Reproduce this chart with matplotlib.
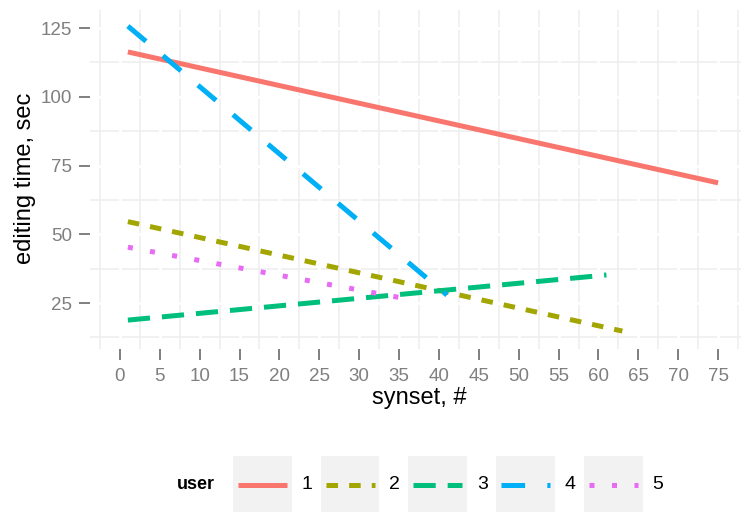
import matplotlib
matplotlib.use('Agg')
import matplotlib.pyplot as plt
from matplotlib.patches import Rectangle
from matplotlib.lines import Line2D

plt.rcParams['font.family'] = ['Liberation Sans', 'DejaVu Sans']
plt.rcParams['lines.scale_dashes'] = False

# ---- data ----
users = ['1', '2', '3', '4', '5']
x_start = [1, 1, 1, 1, 1]
x_end = [75, 63, 61, 41, 36]
y_start = [116.3, 54.6, 18.8, 125.7, 45.3]
y_end = [68.7, 14.8, 35.2, 27.9, 26.5]
colors = ['#F8766D', '#A3A500', '#00BF7D', '#00B0F6', '#E76BF3']
dashes = [None, (8.3, 8.0), (16.0, 8.6), (17.0, 16.0), (3.6, 12.6)]

x_ticks = list(range(0, 80, 5))
x_minor = [t - 2.5 for t in x_ticks] + [77.5]
y_ticks = [25, 50, 75, 100, 125]
y_minor = [12.5, 37.5, 62.5, 87.5, 112.5]

W, H = 741, 512
fig = plt.figure(figsize=(W / 100, H / 100), dpi=100)
L, R, T, B = 90, 748, 10, 348.7
ax = fig.add_axes([L / W, 1 - B / H, (R - L) / W, (B - T) / H])
ax.set_xlim(-3.75, 78.75)
ax.set_ylim(8.4, 131.55)
for s in ax.spines.values():
    s.set_visible(False)

grid_c = '#eeeeee'
for v in x_minor:
    ax.axvline(v, color=grid_c, lw=1.1, zorder=0)
for v in y_minor:
    ax.axhline(v, color=grid_c, lw=1.1, zorder=0)
for v in x_ticks:
    ax.axvline(v, color='white', lw=2.0, zorder=0.5)
for v in y_ticks:
    ax.axhline(v, color='white', lw=2.0, zorder=0.5)

ax.set_xticks(x_ticks)
ax.set_yticks(y_ticks)
ax.tick_params(length=7.6, width=1.4, color='#7f7f7f', labelcolor='#7f7f7f',
               labelsize=13.5)
ax.tick_params(axis='x', pad=6.0)
ax.tick_params(axis='y', pad=5.5)

for i, u in enumerate(users):
    ls = '-' if dashes[i] is None else (0, dashes[i])
    ax.plot([x_start[i], x_end[i]], [y_start[i], y_end[i]], color=colors[i],
            lw=3.6, linestyle=ls, solid_capstyle='butt', dash_capstyle='butt',
            zorder=2 + i)

fig.text(25 / W, 1 - 178 / H, 'editing time, sec', rotation=90, ha='center',
         va='center', fontsize=17)
fig.text(419 / W, 1 - 404 / H, 'synset, #', ha='center', va='baseline',
         fontsize=17)

# ---- legend ----
ly = 1 - 484.5 / H
fig.text(177 / W, ly, 'user', ha='left', va='center', fontsize=13,
         fontweight='bold')
for i, u in enumerate(users):
    bx = 233 + i * 87.7
    fig.add_artist(Rectangle((bx / W, 1 - (455.7 + 58.7) / H), 58.7 / W,
                             58.7 / H, transform=fig.transFigure,
                             color='#f2f2f2', lw=0))
    ls = '-' if dashes[i] is None else (0, dashes[i])
    fig.add_artist(Line2D([(bx + 5) / W, (bx + 54) / W], [ly, ly],
                          transform=fig.transFigure, color=colors[i], lw=3.6,
                          linestyle=ls, solid_capstyle='butt',
                          dash_capstyle='butt'))
    fig.text((bx + 68.7) / W, ly, u, ha='left', va='center', fontsize=14)

fig.savefig('out.png', dpi=100)
